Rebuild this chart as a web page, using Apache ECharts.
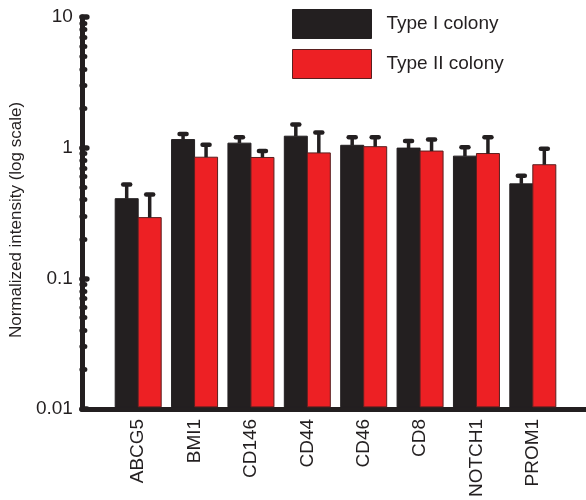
<!DOCTYPE html>
<html>
<head>
<meta charset="utf-8">
<script src="https://cdn.jsdelivr.net/npm/echarts@6/dist/echarts.min.js"></script>
<style>html,body{margin:0;padding:0;background:#fff}#c{width:586px;height:500px}</style>
</head>
<body>
<div id="c"></div>
<script>
const categories = ['ABCG5','BMI1','CD146','CD44','CD46','CD8','NOTCH1','PROM1'];
const typeIMean  = [0.40, 1.14, 1.07, 1.21, 1.03, 0.98, 0.85, 0.52];
const typeIUpper = [0.515, 1.26, 1.19, 1.49, 1.19, 1.11, 0.995, 0.60];
const typeIIMean  = [0.286, 0.834, 0.83, 0.90, 1.005, 0.93, 0.89, 0.73];
const typeIIUpper = [0.43, 1.04, 0.93, 1.29, 1.19, 1.14, 1.19, 0.97];
const seriesNames = ['Type I colony','Type II colony'];
const yTickLabels = ['0.01','0.1','1','10'];
const minorTickValues = [0.02,0.03,0.04,0.05,0.06,0.07,0.08,0.09,0.2,0.3,0.4,0.5,0.6,0.7,0.8,0.9,2,3,4,5,6,7,8,9];

const Y_MIN = 0.01, Y_MAX = 10;
const BLACK = '#231f20', RED = '#ed2024';
const BAR_W = 23;
const FONT = 'Liberation Sans, Arial, sans-serif';

function makeRender(sideSign, fill, stroke) {
  return function (params, api) {
    const i = api.value(0);
    const mean = api.value(1);
    const upper = api.value(2);
    const c = api.coord([i, mean]);
    const cx = c[0] + sideSign * BAR_W / 2;
    const yTop = c[1];
    const yBase = api.coord([i, Y_MIN])[1];
    const yUp = api.coord([i, upper])[1];
    return {
      type: 'group',
      children: [
        { type: 'rect', shape: { x: cx - BAR_W / 2, y: yTop, width: BAR_W, height: yBase - yTop },
          style: { fill: fill, stroke: stroke, lineWidth: 1 } },
        { type: 'line', shape: { x1: cx, y1: yTop, x2: cx, y2: yUp },
          style: { stroke: BLACK, lineWidth: 3.5 } },
        { type: 'line', shape: { x1: cx - 3.5, y1: yUp, x2: cx + 3.5, y2: yUp },
          style: { stroke: BLACK, lineWidth: 4.5, lineCap: 'round' } }
      ]
    };
  };
}

const dataI = categories.map((c, i) => [i, typeIMean[i], typeIUpper[i]]);
const dataII = categories.map((c, i) => [i, typeIIMean[i], typeIIUpper[i]]);

const chart = echarts.init(document.getElementById('c'), null, { renderer: 'canvas' });
chart.setOption({
  animation: false,
  textStyle: { fontFamily: FONT },
  legend: {
    orient: 'vertical', left: 292, top: 9, padding: 0,
    itemWidth: 79, itemHeight: 29, itemGap: 10,
    textStyle: { fontSize: 19, color: BLACK, padding: [0, 0, 0, 10] },
    data: [
      { name: seriesNames[0], icon: 'rect', itemStyle: { color: BLACK, borderColor: BLACK, borderWidth: 1 } },
      { name: seriesNames[1], icon: 'rect', itemStyle: { color: RED, borderColor: '#5a1f1f', borderWidth: 1 } }
    ]
  },
  grid: [
    { left: 80, right: 0, top: 17, bottom: 91 },
    { left: 110, right: 25, top: 17, bottom: 91 }
  ],
  xAxis: [
    { gridIndex: 0, type: 'category', data: [''],
      axisLine: { onZero: false, lineStyle: { color: BLACK, width: 5, cap: 'round' } },
      axisTick: { show: false }, axisLabel: { show: false } },
    { gridIndex: 1, type: 'category', data: categories,
      axisLine: { show: false, onZero: false }, axisTick: { show: false },
      axisLabel: { rotate: 90, fontSize: 19, color: BLACK, margin: 12, interval: 0 } }
  ],
  yAxis: [
    { gridIndex: 0, type: 'log', logBase: 10, min: Y_MIN, max: Y_MAX, position: 'left',
      name: 'Normalized intensity (log scale)', nameLocation: 'middle', nameGap: 54,
      nameTextStyle: { fontSize: 17, color: BLACK, padding: [0, 14, 0, 0] },
      axisLine: { show: true, lineStyle: { color: BLACK, width: 5, cap: 'round' } },
      axisTick: { show: true, inside: true, length: 5, lineStyle: { color: BLACK, width: 5.5, cap: 'round' } },
      axisLabel: { fontSize: 19, color: BLACK, margin: 9,
        formatter: function (v) { const k = Math.round(Math.log10(v)) + 2; return yTickLabels[k] !== undefined ? yTickLabels[k] : ''; } },
      splitLine: { show: false } },
    { gridIndex: 1, type: 'log', logBase: 10, min: Y_MIN, max: Y_MAX, show: false },
    { gridIndex: 0, type: 'log', logBase: 10, min: Y_MIN, max: Y_MAX, position: 'left', offset: 0,
      axisLine: { show: false }, axisLabel: { show: false }, splitLine: { show: false },
      axisTick: { show: true, inside: true, length: 3, customValues: minorTickValues,
        lineStyle: { color: BLACK, width: 5, cap: 'round' } } }
  ],
  series: [
    { name: seriesNames[0], type: 'custom', xAxisIndex: 1, yAxisIndex: 1, color: BLACK,
      renderItem: makeRender(-1, BLACK, BLACK), data: dataI, z: 3 },
    { name: seriesNames[1], type: 'custom', xAxisIndex: 1, yAxisIndex: 1, color: RED,
      renderItem: makeRender(1, RED, '#5a1f1f'), data: dataII, z: 3 }
  ]
});
</script>
</body>
</html>
